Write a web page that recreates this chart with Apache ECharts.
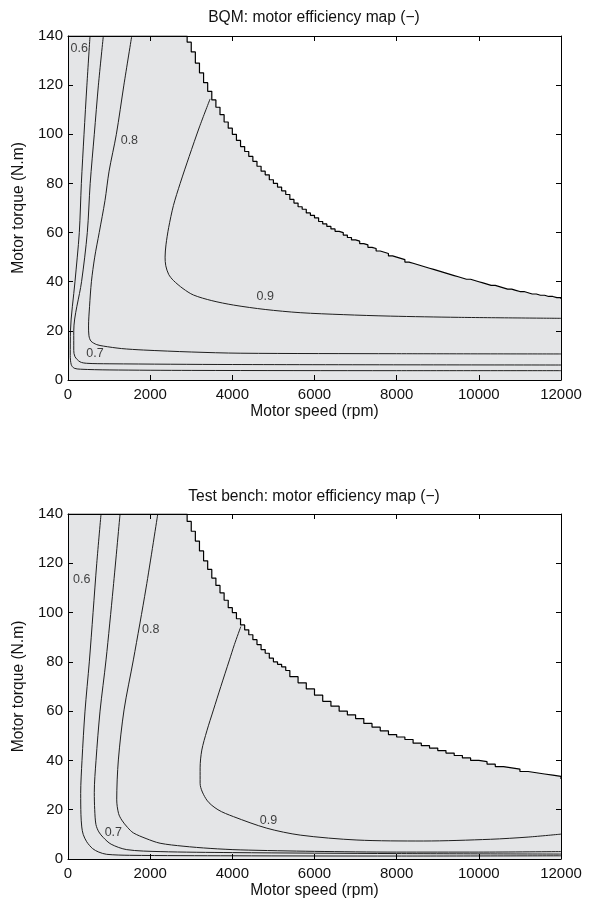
<!DOCTYPE html>
<html>
<head>
<meta charset="utf-8">
<script src="https://cdn.jsdelivr.net/npm/echarts@6/dist/echarts.min.js"></script>
<style>html,body{margin:0;padding:0;background:#fff}#c{width:590px;height:900px}</style>
</head>
<body>
<div id="c"></div>
<script>
// ---------- data (speed rpm, torque N.m) ----------
const titles = ['BQM: motor efficiency map (\u2212)', 'Test bench: motor efficiency map (\u2212)'];
const xAxisName = 'Motor speed (rpm)';
const yAxisName = 'Motor torque (N.m)';
const speedRange = [0, 12000, 2000];
const torqueRange = [0, 140, 20];

// BQM map
const bqmMaxTorque = [[0,140],[2800,140],[2900,137.5],[3000,133.5],[3100,129],[3200,125],[3300,121],[3400,117.5],[3500,114],[3600,111],[3700,108],[3800,105],[3900,102.5],[4000,100],[4100,97.5],[4200,95],[4300,93],[4400,91],[4500,89],[4600,87],[4700,85],[4800,83.5],[4900,81.5],[5000,80],[5100,78.5],[5200,77],[5300,75.5],[5400,73.5],[5500,72],[5600,70.5],[5700,69.5],[5800,68],[5900,67],[6000,66],[6100,64.5],[6200,63.5],[6300,62.5],[6400,61.5],[6500,60.5],[6600,60],[6700,59],[6800,58],[6900,57],[7000,56.5],[7100,55.5],[7200,55],[7300,54],[7400,53.5],[7500,52.5],[7600,52],[7700,51.5],[7800,50.5],[7900,50],[8000,49.5],[8100,49],[8200,48],[8300,47.5],[8400,47],[8500,46.5],[8600,46],[8700,45.5],[8800,45],[8900,44.5],[9000,44],[9100,43.5],[9200,43],[9300,42.5],[9400,42],[9500,41.5],[9600,41],[9700,41],[9800,40.5],[9900,40],[10000,39.5],[10100,39],[10200,38.5],[10300,38.5],[10400,38],[10500,37.5],[10600,37],[10700,37],[10800,36.5],[10900,36],[11000,36],[11100,35.5],[11200,35],[11300,35],[11400,34.5],[11500,34.5],[11600,34],[11700,34],[11800,33.5],[11900,33.5],[12000,33]];
const bqmEff060 = [[536,140],[460,120],[390,100],[325,80],[275,60],[170,40],[60,20],[55,10],[80,6.2],[150,4.8],[300,4.4],[1000,4.1],[3000,3.9],[8000,3.8],[12000,3.8]];
const bqmEff070 = [[860,140],[740,120],[640,100],[540,80],[470,60],[330,40],[140,20],[140,12],[170,9.5],[292,7.4],[455,6.8],[1000,6.6],[4000,6.3],[12000,6.1]];
const bqmEff080 = [[1552,140],[1360,120],[1177,100],[1000,85],[900,73],[760,60],[650,50],[570,40],[525,30],[500,22],[510,18],[560,15.8],[700,14.4],[860,13.8],[1300,12.8],[1834,12.2],[3000,11.4],[4190,10.9],[8000,10.7],[12000,10.6]];
const bqmEff090 = [[3459,114.4],[3200,103],[2950,91],[2730,80],[2566,71],[2450,62],[2385,55],[2363,50],[2380,46.5],[2450,43],[2566,40.5],[2800,37.2],[3052,34.6],[3500,32.3],[4027,30.5],[4800,28.7],[5652,27.4],[6700,26.6],[7844,26],[9500,25.5],[12000,25.1]];
const bqmLabelPos = [[273,135],[658,10.6],[1494,97.4],[4800,33.9]];
const bqmLabelText = ['0.6','0.7','0.8','0.9'];

// Test bench map
const benchMaxTorque = [[0,140],[2800,140],[2900,137],[3000,133],[3100,129],[3200,125],[3300,121],[3400,117.5],[3500,114],[3600,111],[3700,108],[3800,105],[3900,102],[4000,100],[4100,97.5],[4200,95],[4300,93],[4400,91],[4500,89],[4600,87],[4700,85],[4800,83.5],[4900,81.5],[5000,80],[5100,79],[5200,78],[5300,76.5],[5400,74],[5600,71.5],[5800,69],[6000,66.5],[6200,64],[6400,62],[6600,60],[6800,58.5],[7000,57],[7200,55],[7400,53.5],[7600,52],[7800,50.5],[8000,49.5],[8200,48.5],[8400,47],[8600,46],[8800,45],[9000,44],[9200,43],[9400,42],[9600,41],[9800,40],[10000,39.5],[10200,38.5],[10400,37.5],[10600,37],[10800,36.5],[11000,35.5],[11200,35],[11400,34.5],[11600,34],[11800,33.5],[12000,32.5]];
const benchEff060 = [[804,140],[700,120],[610,100],[519,80],[414,60],[341,40],[309,26.6],[315,18],[335,13],[370,10],[455,7],[600,4.2],[750,2.8],[942,1.9],[1500,1.5],[4000,1.3],[8000,1.2],[12000,1.3]];
const benchEff070 = [[1267,140],[1100,110],[926,80.8],[780,60],[682,40],[640,27],[650,20],[680,14],[750,11],[860,8.7],[1050,6],[1430,3.8],[2241,3],[4000,2.6],[8000,2.2],[12000,2.0]];
const benchEff080 = [[2185,140],[1900,110],[1591,80.8],[1364,60.5],[1226,40.2],[1186,24],[1230,18.5],[1308,15.8],[1450,12.8],[1591,10.6],[1900,8.3],[2241,6.4],[2800,5.2],[3459,4.3],[4190,3.7],[6000,3.1],[8000,2.8],[10000,2.8],[12000,3.0]];
const benchEff090 = [[4206,94.3],[4050,87],[3930,80.8],[3720,70],[3540,60.5],[3380,52],[3257,44.2],[3216,37],[3216,30.7],[3379,23.9],[3650,20],[4027,17.2],[4840,12.5],[5652,9.7],[7033,7.7],[8656,7.3],[10280,8],[11200,8.9],[12000,10.1]];
const benchLabelPos = [[333,113.3],[1104,10.7],[2015,93],[4880,15.5]];
const benchLabelText = ['0.6','0.7','0.8','0.9'];

// ---------- chart ----------
const FONT = '"Liberation Sans", Arial, Helvetica, sans-serif';
const TXT = '#111';
const FILL = '#e4e5e7';
const LINE = '#1e1e1e';

const maps = [
  {max: bqmMaxTorque, eff: [bqmEff060, bqmEff070, bqmEff080, bqmEff090], lpos: bqmLabelPos, ltxt: bqmLabelText},
  {max: benchMaxTorque, eff: [benchEff060, benchEff070, benchEff080, benchEff090], lpos: benchLabelPos, ltxt: benchLabelText}
];
const gridBoxes = [
  {left: 68, top: 36, width: 493, height: 344},
  {left: 68, top: 514, width: 493, height: 345}
];
const titleTops = [10, 489];

const grid = [], xAxis = [], yAxis = [], series = [], title = [];
const axisLine = {show: true, onZero: false, lineStyle: {color: '#000', width: 1}};
const axisTick = {show: true, inside: true, length: 5, lineStyle: {color: '#000', width: 1}};
const plain = v => String(v);

maps.forEach((m, g) => {
  grid.push(Object.assign({containLabel: false}, gridBoxes[g]));
  title.push({
    text: titles[g], left: 314, top: titleTops[g], textAlign: 'center', padding: 0,
    textStyle: {fontSize: 15.6, fontWeight: 'normal', color: TXT, fontFamily: FONT}
  });
  const xBase = {type: 'value', gridIndex: g, min: speedRange[0], max: speedRange[1], interval: speedRange[2],
    axisLine, axisTick, splitLine: {show: false}, z: 10};
  const yBase = {type: 'value', gridIndex: g, min: torqueRange[0], max: torqueRange[1], interval: torqueRange[2],
    axisLine, axisTick, splitLine: {show: false}, z: 10};
  xAxis.push(Object.assign({}, xBase, {position: 'bottom',
    axisLabel: {fontSize: 15, color: TXT, margin: 7, fontFamily: FONT, formatter: plain},
    name: xAxisName, nameLocation: 'middle', nameGap: 24,
    nameTextStyle: {fontSize: 15.6, color: TXT, fontFamily: FONT}}));
  xAxis.push(Object.assign({}, xBase, {position: 'top', axisLabel: {show: false}}));
  yAxis.push(Object.assign({}, yBase, {position: 'left',
    axisLabel: {fontSize: 15, color: TXT, margin: 5, fontFamily: FONT, formatter: plain},
    name: yAxisName, nameLocation: 'middle', nameGap: 37,
    nameTextStyle: {fontSize: 15.6, color: TXT, fontFamily: FONT}}));
  yAxis.push(Object.assign({}, yBase, {position: 'right', axisLabel: {show: false}}));

  const xi = 2 * g, yi = 2 * g;
  series.push({
    type: 'line', xAxisIndex: xi, yAxisIndex: yi, data: m.max, step: 'end',
    symbol: 'none', lineStyle: {color: '#000', width: 1.2},
    areaStyle: {color: FILL, opacity: 1, origin: 'start'}, z: 1, silent: true
  });
  m.eff.forEach(d => {
    series.push({
      type: 'line', xAxisIndex: xi, yAxisIndex: yi, data: d, smooth: 0.3,
      symbol: 'none', lineStyle: {color: LINE, width: 1}, z: 3, silent: true
    });
  });
  series.push({
    type: 'scatter', xAxisIndex: xi, yAxisIndex: yi, symbolSize: 1,
    itemStyle: {color: 'rgba(0,0,0,0)'}, z: 4, silent: true,
    data: m.lpos.map((p, i) => ({value: p, name: m.ltxt[i]})),
    label: {show: true, position: 'inside', formatter: p => p.name, fontSize: 12.5, color: TXT, fontFamily: FONT}
  });
});

const chart = echarts.init(document.getElementById('c'), null, {renderer: 'canvas'});
chart.setOption({animation: false, backgroundColor: '#fff', title, grid, xAxis, yAxis, series});
</script>
</body>
</html>
